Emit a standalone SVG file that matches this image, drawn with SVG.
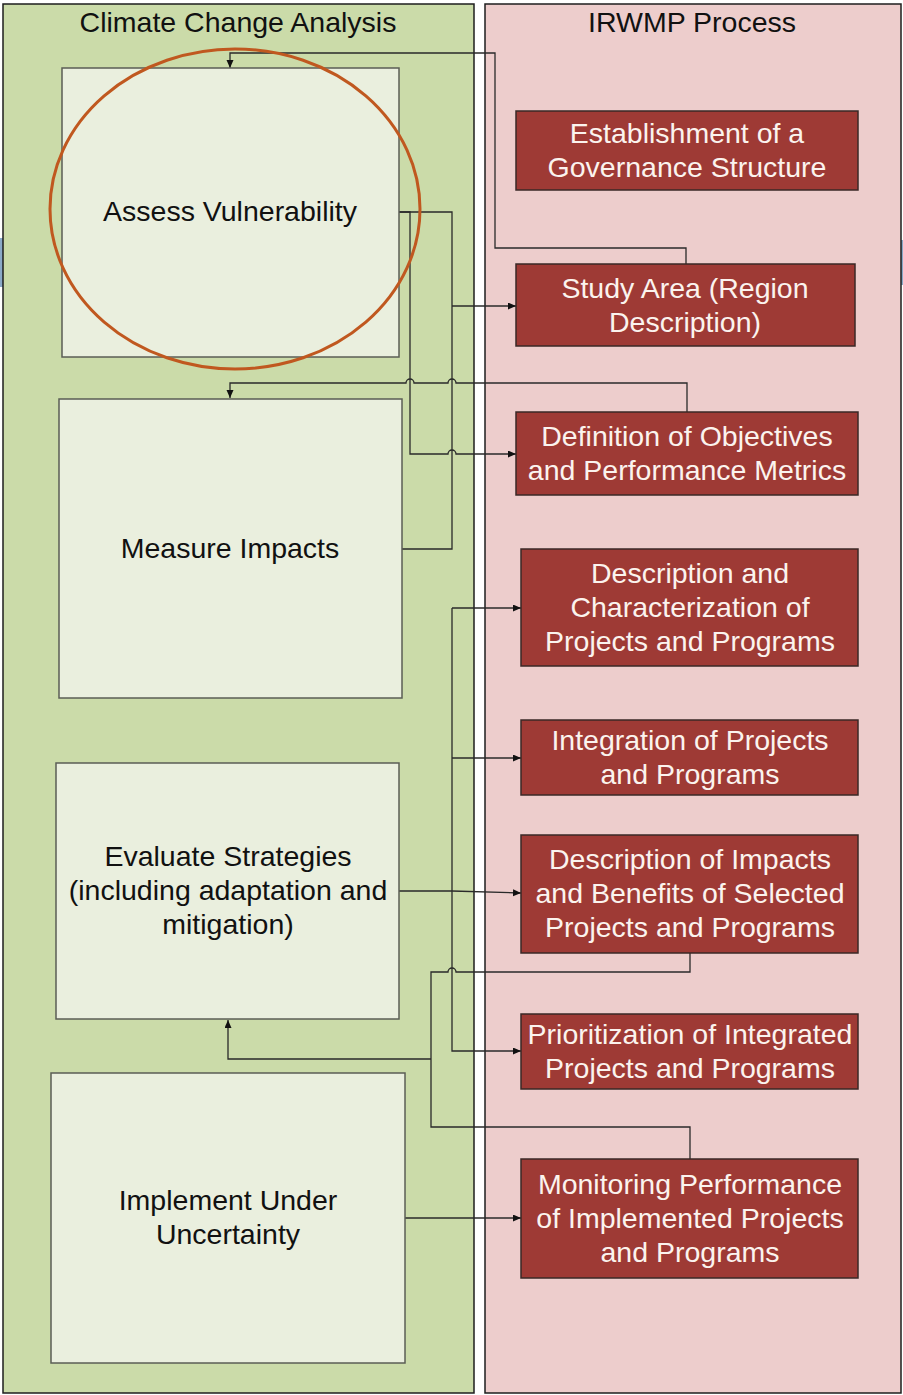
<svg xmlns="http://www.w3.org/2000/svg" width="903" height="1395" viewBox="0 0 903 1395">
<style>
.panel{stroke:#1e1e1e;stroke-width:1.5}
.cc{fill:#eaefde;stroke:#5b5e55;stroke-width:1.5}
.rb{fill:#9e3a35;stroke:#3a2826;stroke-width:1.5}
.hd{font-family:"Liberation Sans",Arial,sans-serif;font-size:28.5px;fill:#111;text-anchor:middle}
.lt{font-family:"Liberation Sans",Arial,sans-serif;font-size:28.5px;fill:#111;text-anchor:middle}
.wt{font-family:"Liberation Sans",Arial,sans-serif;font-size:28.5px;fill:#fbf3ee;text-anchor:middle}
.cn{fill:none;stroke:#2a2a2a;stroke-width:1.3}
.ar{marker-end:url(#arr)}
</style>
<defs>
<marker id="arr" markerUnits="userSpaceOnUse" markerWidth="9" markerHeight="8" refX="8" refY="3.5" orient="auto">
<path d="M0,0 L8,3.5 L0,7 z" fill="#111"/>
</marker>
</defs>
<rect x="0" y="0" width="903" height="1395" fill="#ffffff"/>
<rect x="0" y="238" width="4" height="49" fill="#8aa9c8"/>
<rect x="899" y="240" width="4" height="45" fill="#8aa9c8"/>
<g id="panel-climate">
<rect class="panel" x="3" y="4" width="471" height="1389" fill="#cbdba9"/>
<text class="hd" x="238" y="32">Climate Change Analysis</text>
</g>
<g id="panel-irwmp">
<rect class="panel" x="485" y="4" width="416" height="1389" fill="#edcdcc"/>
<text class="hd" x="692" y="32">IRWMP Process</text>
</g>
<g id="connectors">
<path class="cn ar" d="M686,264 V248 H495 V53 H230 V68"/>
<path class="cn" d="M399,212 H452 V549 H402"/>
<path class="cn ar" d="M452,306 H516"/>
<path class="cn ar" d="M399,212 H410 V454 H448 a4,4 0 0 1 8,0 H516"/>
<path class="cn ar" d="M687,412 V383 H456 a4,4 0 0 0 -8,0 H414 a4,4 0 0 0 -8,0 H230 V398"/>
<path class="cn ar" d="M452,608 H521"/>
<path class="cn ar" d="M452,608 V1051 H521"/>
<path class="cn ar" d="M452,758 H521"/>
<path class="cn ar" d="M399,891 H452 L521,893"/>
<path class="cn" d="M690,953 V972 H456 a4,4 0 0 0 -8,0 H431 V1127 H690 V1159"/>
<path class="cn ar" d="M431,1059 H228 V1020"/>
<path class="cn ar" d="M405,1218 H521"/>
</g>
<g id="assess-vulnerability">
<rect class="cc" x="62" y="68" width="337" height="289"/>
<text class="lt" x="230" y="221">Assess Vulnerability</text>
</g>
<ellipse id="highlight" cx="235" cy="209" rx="185" ry="160" fill="none" stroke="#c0581f" stroke-width="3"/>
<g id="measure-impacts">
<rect class="cc" x="59" y="399" width="343" height="299"/>
<text class="lt" x="230" y="558">Measure Impacts</text>
</g>
<g id="evaluate-strategies">
<rect class="cc" x="56" y="763" width="343" height="256"/>
<text class="lt" x="228" y="866">Evaluate Strategies</text>
<text class="lt" x="228" y="900">(including adaptation and</text>
<text class="lt" x="228" y="934">mitigation)</text>
</g>
<g id="implement-under-uncertainty">
<rect class="cc" x="51" y="1073" width="354" height="290"/>
<text class="lt" x="228" y="1210">Implement Under</text>
<text class="lt" x="228" y="1244">Uncertainty</text>
</g>
<g id="governance">
<rect class="rb" x="516" y="111" width="342" height="79"/>
<text class="wt" x="687" y="143">Establishment of a</text>
<text class="wt" x="687" y="177">Governance Structure</text>
</g>
<g id="study-area">
<rect class="rb" x="516" y="264" width="339" height="82"/>
<text class="wt" x="685" y="298">Study Area (Region</text>
<text class="wt" x="685" y="332">Description)</text>
</g>
<g id="objectives">
<rect class="rb" x="516" y="412" width="342" height="83"/>
<text class="wt" x="687" y="446">Definition of Objectives</text>
<text class="wt" x="687" y="480">and Performance Metrics</text>
</g>
<g id="description-characterization">
<rect class="rb" x="521" y="549" width="337" height="117"/>
<text class="wt" x="690" y="583">Description and</text>
<text class="wt" x="690" y="617">Characterization of</text>
<text class="wt" x="690" y="651">Projects and Programs</text>
</g>
<g id="integration">
<rect class="rb" x="521" y="720" width="337" height="75"/>
<text class="wt" x="690" y="750">Integration of Projects</text>
<text class="wt" x="690" y="784">and Programs</text>
</g>
<g id="impacts-benefits">
<rect class="rb" x="521" y="835" width="337" height="118"/>
<text class="wt" x="690" y="869">Description of Impacts</text>
<text class="wt" x="690" y="903">and Benefits of Selected</text>
<text class="wt" x="690" y="937">Projects and Programs</text>
</g>
<g id="prioritization">
<rect class="rb" x="521" y="1014" width="337" height="75"/>
<text class="wt" x="690" y="1044">Prioritization of Integrated</text>
<text class="wt" x="690" y="1078">Projects and Programs</text>
</g>
<g id="monitoring">
<rect class="rb" x="521" y="1159" width="337" height="119"/>
<text class="wt" x="690" y="1194">Monitoring Performance</text>
<text class="wt" x="690" y="1228">of Implemented Projects</text>
<text class="wt" x="690" y="1262">and Programs</text>
</g>
</svg>
